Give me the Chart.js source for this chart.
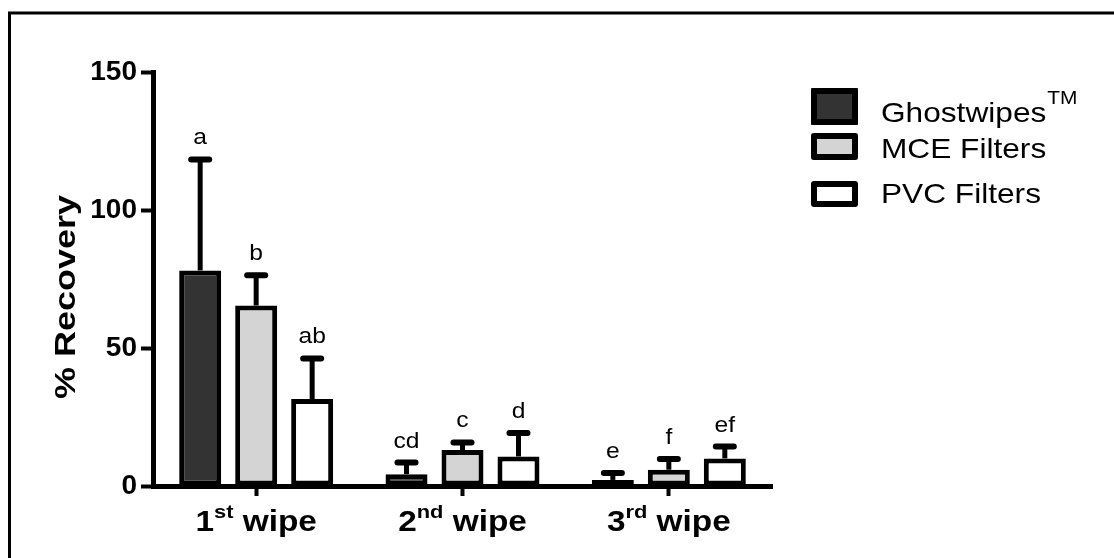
<!DOCTYPE html>
<html><head><meta charset="utf-8">
<script src="https://cdn.jsdelivr.net/npm/chart.js@4/dist/chart.umd.min.js"></script>
<style>html,body{margin:0;padding:0;background:#fff;overflow:hidden;}#wrap{width:1114px;height:558px;position:relative;}</style>
</head><body><div id="wrap"><canvas id="c" width="1114" height="558"></canvas></div>
<script>
// ---- data ----
const categories = ['1st wipe', '2nd wipe', '3rd wipe'];
const categoryMain = ['1', '2', '3'];
const categorySup = ['st', 'nd', 'rd'];
const categoryWord = ['wipe', 'wipe', 'wipe'];
const seriesNames = ['Ghostwipes', 'MCE Filters', 'PVC Filters'];
const seriesSup = ['TM', '', ''];
const ghostwipes = [78.1, 4.3, 2.2];
const ghostwipesErr = [40.2, 4.2, 2.5];
const mce = [65.4, 13.0, 5.9];
const mceErr = [11.0, 2.8, 3.9];
const pvc = [31.5, 10.7, 10.0];
const pvcErr = [14.7, 8.5, 4.3];
const ghostwipesLetters = ['a', 'cd', 'e'];
const mceLetters = ['b', 'c', 'f'];
const pvcLetters = ['ab', 'd', 'ef'];
const yTicks = [0, 50, 100, 150];
const yTitle = '% Recovery';

const FONT = "'Liberation Sans', Arial, Helvetica, sans-serif";
const seriesValues = [ghostwipes, mce, pvc];
const seriesErrors = [ghostwipesErr, mceErr, pvcErr];
const seriesLetters = [ghostwipesLetters, mceLetters, pvcLetters];
const seriesFill = ['#333333', '#d4d4d4', '#ffffff'];

function stretchedText(ctx, text, x, y, sx, align) {
  const w = ctx.measureText(text).width * sx;
  let x0 = x;
  if (align === 'center') x0 = x - w / 2;
  else if (align === 'right') x0 = x - w;
  ctx.save();
  ctx.translate(x0, y);
  ctx.scale(sx, 1);
  ctx.textAlign = 'left';
  ctx.fillText(text, 0, 0);
  ctx.restore();
  return w;
}

const framePlugin = {
  id: 'frame',
  beforeDraw(chart) {
    const ctx = chart.ctx;
    ctx.save();
    ctx.fillStyle = '#fff';
    ctx.fillRect(0, 0, chart.width, chart.height);
    ctx.strokeStyle = '#000';
    ctx.lineWidth = 3;
    ctx.beginPath();
    ctx.moveTo(9.5, chart.height + 5);
    ctx.lineTo(9.5, 13);
    ctx.lineTo(chart.width + 5, 13);
    ctx.stroke();
    ctx.restore();
  }
};

const errorPlugin = {
  id: 'errorbars',
  afterDatasetsDraw(chart) {
    const ctx = chart.ctx;
    const y = chart.scales.y;
    ctx.save();
    ctx.strokeStyle = '#000';
    ctx.fillStyle = '#000';
    chart.data.datasets.forEach((ds, i) => {
      const meta = chart.getDatasetMeta(i);
      meta.data.forEach((bar, j) => {
        const v = seriesValues[i][j];
        const e = seriesErrors[i][j];
        const yv = y.getPixelForValue(v);
        const ye = y.getPixelForValue(v + e);
        ctx.lineCap = 'butt';
        ctx.lineWidth = 5;
        ctx.beginPath();
        ctx.moveTo(bar.x, yv);
        ctx.lineTo(bar.x, ye);
        ctx.stroke();
        ctx.lineCap = 'round';
        ctx.lineWidth = 6;
        ctx.beginPath();
        ctx.moveTo(bar.x - 9, ye);
        ctx.lineTo(bar.x + 9, ye);
        ctx.stroke();
        ctx.font = '22px ' + FONT;
        ctx.textBaseline = 'alphabetic';
        stretchedText(ctx, seriesLetters[i][j], bar.x, ye - 15, 1.12, 'center');
      });
    });
    ctx.restore();
  }
};

const labelPlugin = {
  id: 'labels',
  afterDraw(chart) {
    const ctx = chart.ctx;
    const xs = chart.scales.x;
    const ys = chart.scales.y;
    ctx.save();
    ctx.fillStyle = '#000';
    ctx.textBaseline = 'alphabetic';
    // x category labels with superscripts
    const sx = 1.15;
    categories.forEach((c, i) => {
      const cx = xs.getPixelForValue(i);
      ctx.font = 'bold 29px ' + FONT;
      const wMain = ctx.measureText(categoryMain[i]).width * sx;
      const wWord = ctx.measureText(' ' + categoryWord[i]).width * sx;
      ctx.font = 'bold 19px ' + FONT;
      const wSup = ctx.measureText(categorySup[i]).width * sx;
      let x = cx - (wMain + wSup + wWord) / 2;
      const base = 531;
      ctx.font = 'bold 29px ' + FONT;
      x += stretchedText(ctx, categoryMain[i], x, base, sx, 'left');
      ctx.font = 'bold 19px ' + FONT;
      x += stretchedText(ctx, categorySup[i], x, base - 13, sx, 'left');
      ctx.font = 'bold 29px ' + FONT;
      stretchedText(ctx, ' ' + categoryWord[i], x, base, sx, 'left');
    });
    // y title
    ctx.save();
    ctx.translate(75, (ys.top + ys.bottom) / 2 + 18);
    ctx.rotate(-Math.PI / 2);
    ctx.font = 'bold 30px ' + FONT;
    stretchedText(ctx, yTitle, 0, 0, 1.2, 'center');
    ctx.restore();
    // legend
    const boxes = [[811, 88, 47, 37], [811, 133, 47, 27], [811, 181, 47, 26]];
    const bases = [122, 158, 203];
    seriesNames.forEach((name, i) => {
      const b = boxes[i];
      ctx.fillStyle = seriesFill[i];
      ctx.fillRect(b[0], b[1], b[2], b[3]);
      ctx.strokeStyle = '#000';
      ctx.lineWidth = 6;
      ctx.lineJoin = 'round';
      ctx.strokeRect(b[0] + 3, b[1] + 3, b[2] - 6, b[3] - 6);
      ctx.fillStyle = '#000';
      ctx.font = '28px ' + FONT;
      const w = stretchedText(ctx, name, 881, bases[i], 1.13, 'left');
      if (seriesSup[i]) {
        ctx.font = '19px ' + FONT;
        stretchedText(ctx, seriesSup[i], 881 + w + 1, bases[i] - 18, 1.1, 'left');
      }
    });
    ctx.restore();
  }
};

const datasets = seriesNames.map((name, i) => ({
  label: name,
  data: seriesValues[i],
  backgroundColor: seriesFill[i],
  borderColor: '#000',
  borderWidth: 5,
  borderSkipped: false,
  categoryPercentage: 0.814,
  barPercentage: 0.75
}));

new Chart(document.getElementById('c'), {
  type: 'bar',
  data: { labels: categories, datasets },
  options: {
    responsive: false,
    animation: false,
    devicePixelRatio: 1,
    layout: { padding: { left: 0, right: 342, top: 72, bottom: 0 } },
    plugins: { legend: { display: false }, tooltip: { enabled: false } },
    scales: {
      x: {
        type: 'category',
        offset: true,
        grid: { display: true, drawOnChartArea: false, drawTicks: true, tickLength: 10, tickWidth: 4, tickColor: '#000', offset: false },
        border: { display: true, color: '#000', width: 5 },
        ticks: { display: false },
        afterFit(s) { s.height = 72; }
      },
      y: {
        min: 0, max: 150,
        afterBuildTicks(s) { s.ticks = yTicks.map(v => ({ value: v })); },
        ticks: { color: '#000', padding: 4, font: { family: FONT, size: 28, weight: 'bold' } },
        grid: { display: true, drawOnChartArea: false, drawTicks: true, tickLength: 12, tickWidth: 4, tickColor: '#000' },
        border: { display: true, color: '#000', width: 5 },
        afterFit(s) { s.width = 153; }
      }
    }
  },
  plugins: [framePlugin, errorPlugin, labelPlugin]
});
</script>
</body></html>
